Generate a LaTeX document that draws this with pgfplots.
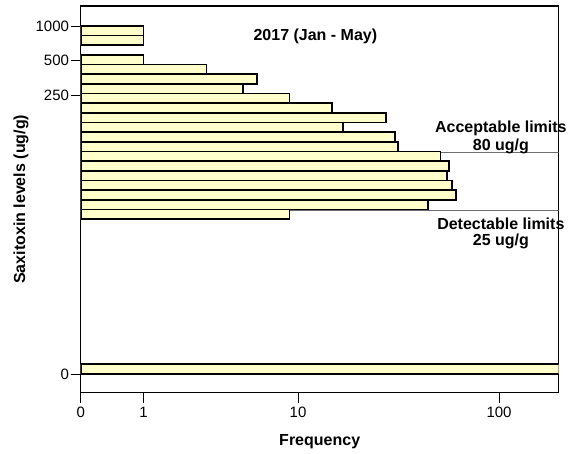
\documentclass[border=0pt]{standalone}
\usepackage{fontspec}
\setmainfont{Liberation Sans}
\usepackage{pgfplots}
\pgfplotsset{compat=1.18}
\usepackage{pgfplotstable}
\definecolor{baryellow}{RGB}{255,255,204}
\definecolor{limgray}{RGB}{110,110,110}

% lev = bin centre in log10(level+1) units, freq = number of samples
\pgfplotstableread{
lev freq
2.95833 1
2.87500 1
2.70833 1
2.62500 3
2.54167 6
2.45833 5
2.37500 9
2.29167 15
2.20833 28
2.12500 17
2.04167 31
1.95833 32
1.87500 52
1.79167 57
1.70833 56
1.62500 59
1.54167 62
1.45833 45
1.37500 9
0.04167 300
}\bins

\begin{document}
\begin{tikzpicture}
\useasboundingbox (0,0) rectangle (576pt,454pt);
\begin{axis}[
  at={(80.7pt,61.3pt)}, anchor=south west,
  scale only axis, width=478pt, height=386.7pt,
  xmin=0, xmax=2.290, ymin=-0.161, ymax=3.172,
  xtick={0,0.30103,1.04139,2.00432}, xticklabels={0,1,10,100},
  ytick={0,2.3997,2.6998,3.0004}, yticklabels={0,250,500,1000},
  tick align=outside, xtick pos=bottom, ytick pos=left,
  major tick length=10pt,
  tick style={black, line width=0.6pt},
  axis line style={black, line width=1.3pt},
  tick label style={font=\fontsize{15}{15}\selectfont},
  xticklabel style={inner sep=4pt},
  yticklabel style={inner sep=1.5pt},
  /pgf/number format/assume math mode=true,
  xlabel={Frequency}, ylabel={Saxitoxin levels (ug/g)},
  label style={font=\bfseries\fontsize{16}{16}\selectfont},
  xlabel style={at={(axis description cs:0.5,-0.1275)}, anchor=center},
  ylabel style={at={(axis description cs:-0.1249,0.5)}, anchor=center},
  clip mode=individual,
]
\addplot[limgray, line width=0.6pt] coordinates {(0,1.90849) (2.29,1.90849)};
\addplot[limgray, line width=0.6pt] coordinates {(0,1.41497) (2.29,1.41497)};
\addplot[xbar, bar width=0.08333, fill=baryellow, draw=black, line width=1.7pt]
  table[x expr={log10(\thisrow{freq}+1)}, y=lev] {\bins};
\node[font=\bfseries\fontsize{16}{16}\selectfont] at (rel axis cs:0.491,0.9206) {2017 (Jan - May)};
\node[inner sep=0pt, font=\bfseries\fontsize{16}{16}\selectfont] at (rel axis cs:0.879,0.683) {Acceptable limits};
\node[inner sep=0pt, font=\bfseries\fontsize{16}{16}\selectfont] at (rel axis cs:0.879,0.638) {80 ug/g};
\node[inner sep=0pt, font=\bfseries\fontsize{16}{16}\selectfont] at (rel axis cs:0.879,0.437) {Detectable limits};
\node[inner sep=0pt, font=\bfseries\fontsize{16}{16}\selectfont] at (rel axis cs:0.879,0.390) {25 ug/g};
\end{axis}
\end{tikzpicture}
\end{document}
